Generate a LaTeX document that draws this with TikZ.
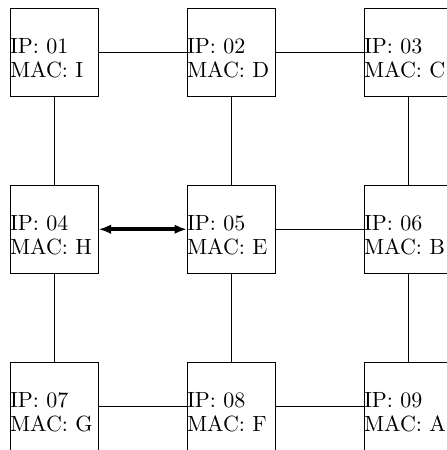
\documentclass[tikz,border=0pt]{standalone}
\usetikzlibrary{arrows.meta}
\begin{document}
\begin{tikzpicture}[x=1pt,y=-1pt,
  box/.style={draw=black, line width=1pt, minimum size=88.5pt, inner sep=0pt, outer sep=0pt},
  lbl/.style={inner sep=0pt, outer sep=0pt, anchor=base west, scale=2.2, transform shape, font=\fontsize{10}{11.05}\selectfont},
  link/.style={draw=black, line width=1pt},
  dbl/.style={draw=black, line width=3.8pt, {Latex[length=12.5pt,width=9.5pt]}-{Latex[length=12.5pt,width=9.5pt]}}]
\useasboundingbox (0,0) rectangle (447,450);
\clip (0,0) rectangle (447,450);
% boxes
\node[box] (n1) at (54.25,52.25) {};
\node[box] (n2) at (231.25,52.25) {};
\node[box] (n3) at (408.25,52.25) {};
\node[box] (n4) at (54.25,229.25) {};
\node[box] (n5) at (231.25,229.25) {};
\node[box] (n6) at (408.25,229.25) {};
\node[box] (n7) at (54.25,406.25) {};
\node[box] (n8) at (231.25,406.25) {};
\node[box] (n9) at (408.25,406.25) {};
% labels
\node[lbl] (t1) at ([yshift=-1pt]n1.west) {\begin{tabular}[t]{@{}l@{}}IP: 01\\MAC: I\end{tabular}};
\node[lbl] (t2) at ([yshift=-1pt]n2.west) {\begin{tabular}[t]{@{}l@{}}IP: 02\\MAC: D\end{tabular}};
\node[lbl] (t3) at ([yshift=-1pt]n3.west) {\begin{tabular}[t]{@{}l@{}}IP: 03\\MAC: C\end{tabular}};
\node[lbl] (t4) at ([yshift=-1pt]n4.west) {\begin{tabular}[t]{@{}l@{}}IP: 04\\MAC: H\end{tabular}};
\node[lbl] (t5) at ([yshift=-1pt]n5.west) {\begin{tabular}[t]{@{}l@{}}IP: 05\\MAC: E\end{tabular}};
\node[lbl] (t6) at ([yshift=-1pt]n6.west) {\begin{tabular}[t]{@{}l@{}}IP: 06\\MAC: B\end{tabular}};
\node[lbl] (t7) at ([yshift=-1pt]n7.west) {\begin{tabular}[t]{@{}l@{}}IP: 07\\MAC: G\end{tabular}};
\node[lbl] (t8) at ([yshift=-1pt]n8.west) {\begin{tabular}[t]{@{}l@{}}IP: 08\\MAC: F\end{tabular}};
\node[lbl] (t9) at ([yshift=-1pt]n9.west) {\begin{tabular}[t]{@{}l@{}}IP: 09\\MAC: A\end{tabular}};
% connectors
\draw[link] (n1) -- (n2);
\draw[link] (n2) -- (n3);
\draw[link] (n5) -- (n6);
\draw[link] (n7) -- (n8);
\draw[link] (n8) -- (n9);
\draw[link] (n1) -- (n4);
\draw[link] (n2) -- (n5);
\draw[link] (n3) -- (n6);
\draw[link] (n4) -- (n7);
\draw[link] (n5) -- (n8);
\draw[link] (n6) -- (n9);
\draw[dbl] (n4.east) -- (n5.west);
\end{tikzpicture}
\end{document}
